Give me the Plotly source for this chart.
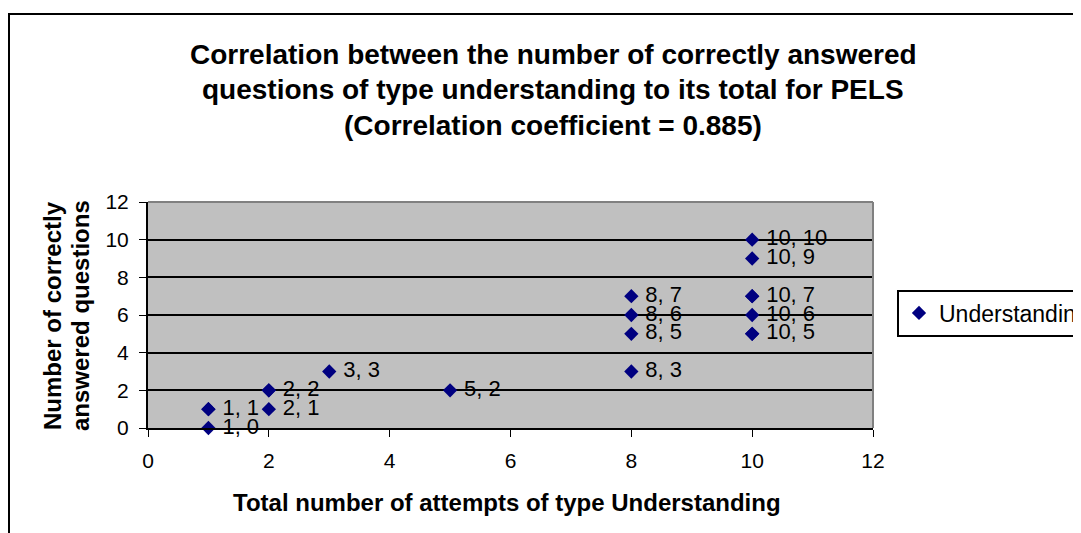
import plotly.graph_objects as go

# points (some pairs occur twice, as in the original)
attempts = [1, 1, 1, 2, 2, 2, 3, 5, 8, 8, 8, 8, 10, 10, 10, 10, 10, 10, 10]
correct = [0, 1, 1, 1, 2, 2, 3, 2, 3, 5, 6, 7, 5, 5, 6, 7, 7, 9, 10]
title_lines = [
    "Correlation between the number of correctly answered",
    "questions of type understanding to its total for PELS",
    "(Correlation coefficient = 0.885)",
]
y_title_lines = ["Number of correctly", "answered questions"]
x_title = "Total number of attempts of type Understanding"

font = "Liberation Sans, Arial, sans-serif"

# one label per distinct point (repeated points share the label)
labels = []
seen = set()
for x, y in zip(attempts, correct):
    labels.append("" if (x, y) in seen else f"\u00a0{x}, {y}")
    seen.add((x, y))


# screen pixel -> paper coordinates (plot area: x 148..873, y 202..428 on screen)
def px(x):
    return (x - 148) / 725


def py(y):
    return (428 - y) / 226


fig = go.Figure()
fig.add_trace(go.Scatter(
    x=attempts, y=correct,
    mode="markers+text",
    name="Understanding",
    text=labels,
    textposition="middle right",
    textfont=dict(family=font, size=22, color="black"),
    marker=dict(symbol="diamond", size=11, color="#000080"),
    cliponaxis=False,
))

# title as three separate lines (Excel spacing)
for i, line in enumerate(title_lines):
    fig.add_annotation(
        text=f"<b>{line}</b>", xref="paper", yref="paper",
        x=px(553), y=py(54 + 36 * i),
        xanchor="center", yanchor="middle", showarrow=False,
        font=dict(family=font, size=28, color="black"),
    )

# axis titles
for i, line in enumerate(y_title_lines):
    fig.add_annotation(
        text=f"<b>{line}</b>", xref="paper", yref="paper",
        x=px(52 + 28 * i), y=py(316), textangle=-90,
        xanchor="center", yanchor="middle", showarrow=False,
        font=dict(family=font, size=24, color="black"),
    )
fig.add_annotation(
    text=f"<b>{x_title}</b>", xref="paper", yref="paper",
    x=px(507), y=py(502), xanchor="center", yanchor="middle", showarrow=False,
    font=dict(family=font, size=24, color="black"),
)

# outer chart border and top/right plot-area edges
fig.add_shape(type="rect", xref="paper", yref="paper",
              x0=px(9), x1=px(1110), y0=py(560), y1=py(14),
              line=dict(color="black", width=2), layer="below")
fig.add_shape(type="line", xref="paper", yref="paper", x0=0, x1=1, y0=1, y1=1,
              line=dict(color="#808080", width=2), layer="above")
fig.add_shape(type="line", xref="paper", yref="paper", x0=1, x1=1, y0=0, y1=1,
              line=dict(color="#808080", width=2), layer="above")

fig.update_layout(
    width=1081, height=533,
    margin=dict(l=140, r=216, t=194, b=113, autoexpand=False),
    paper_bgcolor="white", plot_bgcolor="#C0C0C0",
    font=dict(family=font, size=20, color="black"),
    showlegend=True,
    legend=dict(x=px(897), y=py(313), xanchor="left", yanchor="middle",
                bgcolor="white", bordercolor="black", borderwidth=2,
                font=dict(family=font, size=23, color="black"),
                itemwidth=30, tracegroupgap=0),
)
fig.update_xaxes(
    range=[0, 12], dtick=2, showgrid=False, zeroline=False,
    showline=True, linecolor="black", linewidth=2,
    ticks="outside", ticklen=7, tickcolor="black", tickwidth=1,
    tickfont=dict(size=21), ticklabelstandoff=6,
)
fig.update_yaxes(
    range=[0, 12], dtick=2, showgrid=True, gridcolor="black", gridwidth=2,
    zeroline=False, showline=True, linecolor="black", linewidth=2,
    ticks="outside", ticklen=7, tickcolor="black", tickwidth=1,
    tickfont=dict(size=21), ticklabelstandoff=6,
)

fig.write_html("out.html")
